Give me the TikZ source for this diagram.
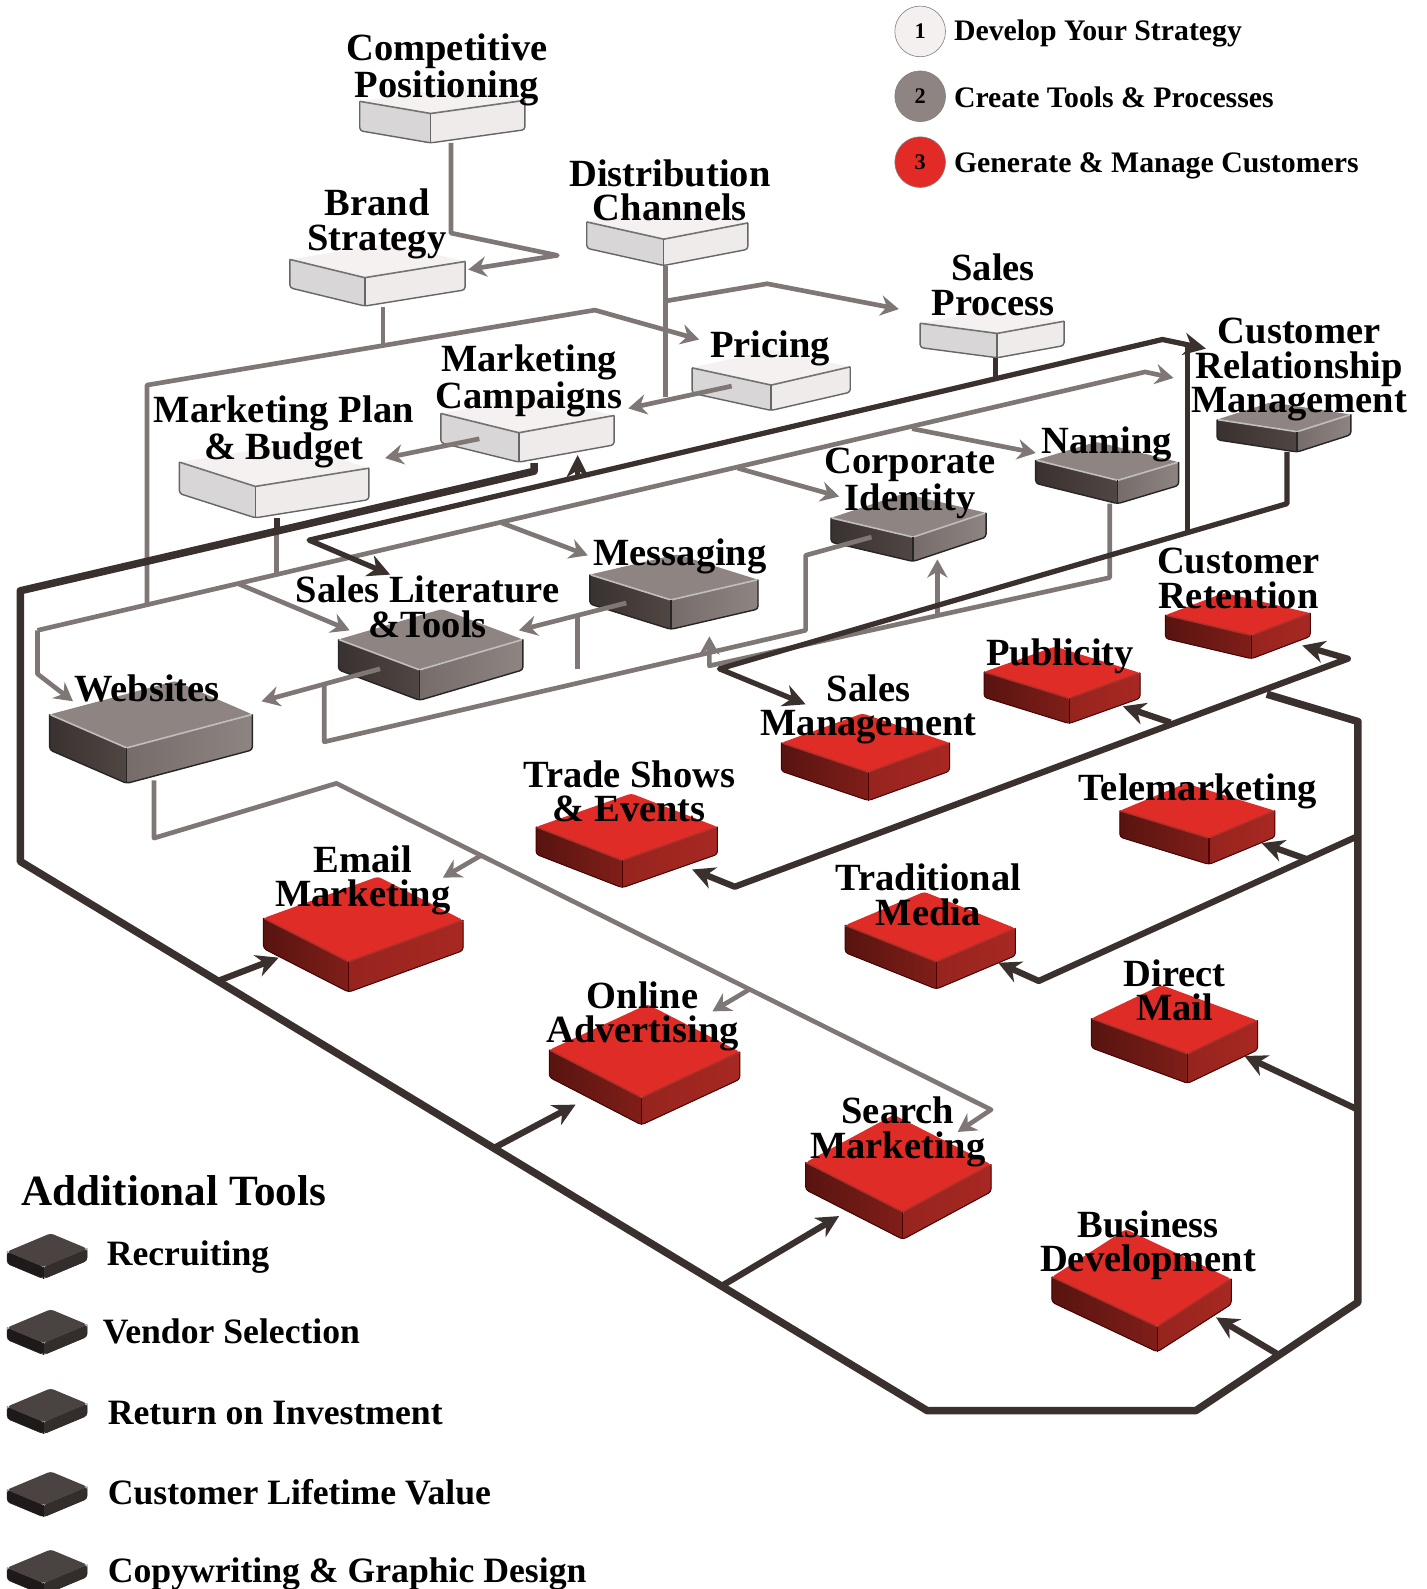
\documentclass[tikz,border=0pt]{standalone}
\usepackage{fontspec}
\setmainfont{Liberation Serif}
\usetikzlibrary{calc,arrows.meta}

\definecolor{linegrey}{HTML}{7F7775}
\definecolor{linedark}{HTML}{3A302E}

\tikzset{
    lighttop/.style={fill={rgb,255:red,245;green,241;blue,241}},
    lightleft/.style={fill={rgb,255:red,216;green,214;blue,214}},
    lightright/.style={fill={rgb,255:red,239;green,235;blue,235}},
    lightedge/.style={draw=black!55, line width=0.8pt},
    lightbase/.style={draw=black!60, line width=0.7pt},
    tooltop/.style={fill={rgb,255:red,142;green,132;blue,130}},
    toolleft/.style={left color={rgb,255:red,58;green,50;blue,48}, right color={rgb,255:red,80;green,70;blue,68}},
    toolright/.style={left color={rgb,255:red,118;green,108;blue,106}, right color={rgb,255:red,142;green,132;blue,130}},
    tooledge/.style={draw=black!25, line width=0.8pt},
    toolbase/.style={draw=black!85, line width=0.7pt},
    redtop/.style={fill={rgb,255:red,224;green,44;blue,39}},
    redleft/.style={left color={rgb,255:red,88;green,20;blue,16}, right color={rgb,255:red,128;green,30;blue,25}},
    redright/.style={left color={rgb,255:red,150;green,36;blue,30}, right color={rgb,255:red,168;green,40;blue,34}},
    rededge/.style={draw={rgb,255:red,170;green,50;blue,44}, line width=0.7pt},
    redbase/.style={draw=black!70!red, line width=0.5pt},
    smalltop/.style={fill={rgb,255:red,74;green,67;blue,65}},
    smallleft/.style={fill={rgb,255:red,30;green,26;blue,25}},
    smallright/.style={fill={rgb,255:red,51;green,45;blue,43}},
    smalledge/.style={draw={rgb,255:red,74;green,67;blue,65}, line width=0.2pt},
    smallbase/.style={draw={rgb,255:red,30;green,26;blue,25}, line width=0.2pt},
    blocklabel/.style={font=\fontsize{19}{17}\selectfont\bfseries, align=center, inner sep=0pt, yshift=-1.5pt},
    toollabel/.style={font=\fontsize{17.6}{19}\selectfont\bfseries, anchor=west, inner sep=0pt},
    stagelabel/.style={font=\fontsize{14.7}{16}\selectfont\bfseries, anchor=west, inner sep=0pt},
    stagedot/.style={circle, draw=black!50, line width=0.3pt, minimum size=25pt, inner sep=0pt, font=\fontsize{11}{12}\selectfont\bfseries},
    greyline/.style={draw=linegrey, line width=2.3pt, line join=round},
    greyarrow/.style={greyline, -{Stealth[length=9pt,width=10pt,inset=3pt]}},
    darkline/.style={draw=linedark, line width=3.1pt, line join=round},
    darkarrow/.style={darkline, -{Stealth[length=11pt,width=11pt,inset=3.5pt]}},
    darkboth/.style={darkline, {Stealth[length=11pt,width=11pt,inset=3.5pt]}-{Stealth[length=11pt,width=11pt,inset=3.5pt]}},
}

% name, kind, left corner, front corner, right corner, height
\newcommand{\block}[6]{
    \coordinate (#1 L) at (#3);
    \coordinate (#1 F) at (#4);
    \coordinate (#1 R) at (#5);
    \coordinate (#1 B) at ($(#1 L)+(#1 R)-(#1 F)$);
    \fill[#2top, rounded corners=1.5pt] (#1 L) -- (#1 B) -- (#1 R) -- (#1 F) -- cycle;
    \fill[#2left, rounded corners=1.5pt] (#1 L) -- (#1 F) -- ($(#1 F)+(0,#6)$) -- ($(#1 L)+(0,#6)$) -- cycle;
    \fill[#2right, rounded corners=1.5pt] (#1 F) -- (#1 R) -- ($(#1 R)+(0,#6)$) -- ($(#1 F)+(0,#6)$) -- cycle;
    \draw[#2edge] (#1 L) -- (#1 F) -- (#1 R);
    \draw[#2base, rounded corners=1.5pt] (#1 L) -- ($(#1 L)+(0,#6)$) -- ($(#1 F)+(0,#6)$) -- ($(#1 R)+(0,#6)$) -- (#1 R);
    \draw[#2base] (#1 F) -- ($(#1 F)+(0,#6)$);
}

\begin{document}
\begin{tikzpicture}[x=0.5pt, y=-0.5pt]
    \useasboundingbox (0,0) rectangle (1408,1568);

    % step 1
    \block{comp}{light}{355,100}{425,112}{518,99}{29}
    \block{brand}{light}{286,256}{360,274}{459,258}{28}
    \block{dist}{light}{579,219}{655,236}{738,220}{26}
    \block{process}{light}{908,319}{984,329}{1050,317}{24}
    \block{pricing}{light}{683,363}{761,380}{839,362}{25}
    \block{camp}{light}{435,408}{512,427}{606,410}{29}
    \block{plan}{light}{177,456}{252,480}{364,462}{31}

    % step 2
    \block{crm}{tool}{1201,414}{1280,426}{1333,409}{20}
    \block{naming}{tool}{1022,454}{1103,474}{1163,456}{23}
    \block{corp}{tool}{820,511}{901,530}{973,506}{24}
    \block{msg}{tool}{582,567}{662,592}{748,572}{29}
    \block{lit}{tool}{334,631}{414,661}{516,631}{30}
    \block{web}{tool}{49,705}{125,738}{249,705}{35}

    % step 3
    \block{retain}{red}{1150,607}{1235,627}{1293,605}{23}
    \block{public}{red}{971,663}{1055,689}{1125,664}{25}
    \block{salesm}{red}{771,733}{857,762}{937,733}{28}
    \block{tele}{red}{1105,800}{1193,827}{1258,800}{26}
    \block{trade}{red}{529,816}{614,849}{708,816}{27}
    \block{media}{red}{834,913}{924,949}{1002,916}{27}
    \block{direct}{red}{1077,1005}{1172,1040}{1241,1007}{29}
    \block{email}{red}{260,906}{344,949}{457,908}{30}
    \block{online}{red}{542,1036}{633,1083}{730,1038}{27}
    \block{search}{red}{795,1147}{891,1196}{978,1149}{27}
    \block{bizdev}{red}{1038,1260}{1142,1309}{1215,1262}{25}

    % additional tools
    \block{recruit}{small}{7,1235}{43,1250}{86,1232}{12}
    \block{vendor}{small}{7,1310}{43,1325}{86,1307}{12}
    \block{roi}{small}{7,1388}{43,1403}{86,1385}{12}
    \block{ltv}{small}{7,1470}{43,1485}{86,1467}{12}
    \block{copy}{small}{7,1547}{43,1562}{86,1544}{12}

    % grey connectors
    \coordinate (comp out) at (445,141);
    \coordinate (brand in) at (462,266);
    \coordinate (brand out) at (378,303);
    \coordinate (brand join) at (378,340);
    \coordinate (pricing in) at (690,335);
    \coordinate (left join) at (145,598);
    \coordinate (dist out) at (657,262);
    \coordinate (dist join) at (657,392);
    \coordinate (dist fork) at (657,297);
    \coordinate (process in) at (887,305);
    \coordinate (pricing out) at (722,381);
    \coordinate (camp in) at (620,403);
    \coordinate (camp out) at (473,433);
    \coordinate (plan in) at (380,452);
    \draw[greyarrow] (comp out) -- (445,230) -- (550,252) -- (brand in);
    \draw[greyline] (brand out) -- (brand join);
    \draw[greyarrow] (left join) -- (145,380) -- (587,306) -- (pricing in);
    \draw[greyline] (dist out) -- (dist join);
    \draw[greyarrow] (dist fork) -- (757,280) -- (process in);
    \draw[greyarrow] (pricing out) -- (camp in);
    \draw[greyarrow] (camp out) -- (plan in);

    \coordinate (bus start) at (37,622);
    \coordinate (web in) at (72,692);
    \coordinate (crm in) at (1158,373);
    \coordinate (fork lit) at (235,576);
    \coordinate (lit in) at (345,622);
    \coordinate (fork msg) at (495,516);
    \coordinate (msg in) at (580,548);
    \coordinate (fork corp) at (728,462);
    \coordinate (corp in) at (828,490);
    \coordinate (fork naming) at (900,423);
    \coordinate (naming in) at (1022,447);
    \coordinate (plan out) at (273,524);
    \coordinate (plan join) at (273,568);
    \draw[greyarrow] (bus start) -- (37,665) -- (web in);
    \draw[greyarrow] (bus start) -- (1130,367) -- (crm in);
    \draw[greyarrow] (fork lit) -- (lit in);
    \draw[greyarrow] (fork msg) -- (msg in);
    \draw[greyarrow] (fork corp) -- (corp in);
    \draw[greyarrow] (fork naming) -- (naming in);
    \draw[greyline] (plan out) -- (plan join);

    \coordinate (msg out) at (618,595);
    \coordinate (lit in2) at (512,622);
    \coordinate (lit out) at (375,660);
    \coordinate (web in2) at (258,692);
    \coordinate (lit fork) at (320,675);
    \coordinate (corp out) at (860,530);
    \coordinate (msg fork) at (570,609);
    \coordinate (msg join) at (570,660);
    \coordinate (naming out) at (1095,497);
    \coordinate (corner in) at (700,628);
    \coordinate (rise foot) at (925,609);
    \coordinate (corp in2) at (925,552);
    \draw[greyarrow] (msg out) -- (lit in2);
    \draw[greyarrow] (lit out) -- (web in2);
    \draw[greyline] (lit fork) -- (320,732) -- (795,622) -- (795,548) -- (corp out);
    \draw[greyline] (msg fork) -- (msg join);
    \draw[greyarrow] (naming out) -- (1095,570) -- (700,657) -- (corner in);
    \draw[greyarrow] (rise foot) -- (corp in2);

    \coordinate (web out) at (152,770);
    \coordinate (search in) at (945,1117);
    \coordinate (fork email) at (475,844);
    \coordinate (email in) at (437,866);
    \coordinate (fork online) at (740,976);
    \coordinate (online in) at (703,998);
    \draw[greyarrow] (web out) -- (152,827) -- (332,773) -- (978,1095) -- (search in);
    \draw[greyarrow] (fork email) -- (email in);
    \draw[greyarrow] (fork online) -- (online in);

    % dark connectors
    \coordinate (camp down) at (527,457);
    \coordinate (plan down) at (273,511);
    \coordinate (plan cross) at (273,526);
    \coordinate (top end) at (1190,344);
    \coordinate (lit dark) at (385,567);
    \coordinate (process out) at (982,353);
    \coordinate (process join) at (982,374);
    \coordinate (camp up foot) at (570,471);
    \coordinate (camp up) at (570,449);
    \coordinate (crm out) at (1270,446);
    \coordinate (salesm in) at (795,695);
    \coordinate (riser top) at (1172,340);
    \coordinate (riser foot) at (1172,525);
    \draw[darkline, line width=3.7pt] (camp down) -- (527,465) -- (20,583) -- (20,850) -- (915,1392) -- (1180,1392) -- (1340,1285) -- (1340,712) -- (1250,685);
    \draw[darkline] (plan down) -- (plan cross);
    \draw[darkboth, line width=2.6pt] (lit dark) -- (305,533) -- (1147,335) -- (top end);
    \draw[darkline, line width=2.4pt] (process out) -- (process join);
    \draw[darkarrow, line width=2.4pt] (camp up foot) -- (camp up);
    \draw[darkarrow, line width=2.6pt] (crm out) -- (1270,497) -- (710,660) -- (salesm in);
    \draw[darkline, line width=2.4pt] (riser top) -- (riser foot);

    \coordinate (trade in) at (683,858);
    \coordinate (retain in) at (1285,637);
    \coordinate (fork public) at (1155,713);
    \coordinate (public in) at (1108,697);
    \coordinate (right fork) at (1340,825);
    \coordinate (media in) at (985,950);
    \coordinate (fork tele) at (1290,848);
    \coordinate (tele in) at (1245,832);
    \coordinate (fork direct) at (1340,1095);
    \coordinate (direct in) at (1228,1042);
    \coordinate (fork bizdev) at (1262,1337);
    \coordinate (bizdev in) at (1200,1300);
    \coordinate (fork search) at (712,1269);
    \coordinate (search in2) at (828,1200);
    \coordinate (fork online2) at (487,1133);
    \coordinate (online in2) at (568,1090);
    \coordinate (fork email2) at (215,968);
    \coordinate (email in2) at (275,945);
    \draw[darkboth] (trade in) -- (725,875) -- (1330,650) -- (retain in);
    \draw[darkarrow] (fork public) -- (public in);
    \draw[darkarrow] (right fork) -- (1025,968) -- (media in);
    \draw[darkarrow] (fork tele) -- (tele in);
    \draw[darkarrow] (fork direct) -- (direct in);
    \draw[darkarrow] (fork bizdev) -- (bizdev in);
    \draw[darkarrow] (fork search) -- (search in2);
    \draw[darkarrow] (fork online2) -- (online in2);
    \draw[darkarrow] (fork email2) -- (email in2);

    % labels
    \node[blocklabel] (comp label) at (441,66) {Competitive\\Positioning};
    \node[blocklabel] (brand label) at (372,218) {Brand\\Strategy};
    \node[blocklabel] (dist label) at (661,185) {Distribution\\Channels};
    \node[blocklabel] (process label) at (980,278) {Sales\\Process};
    \node[blocklabel] (pricing label) at (760,341) {Pricing};
    \node[blocklabel] (camp label) at (522,373) {Marketing\\Campaigns};
    \node[blocklabel] (plan label) at (280,423) {Marketing Plan\\\& Budget};
    \node[blocklabel] (crm label) at (1282,362) {Customer\\Relationship\\Management};
    \node[blocklabel] (naming label) at (1092,436) {Naming};
    \node[blocklabel] (corp label) at (898,474) {Corporate\\Identity};
    \node[blocklabel] (msg label) at (671,546) {Messaging};
    \node[blocklabel] (lit label) at (422,596) {Sales Literature\\\&Tools};
    \node[blocklabel] (web label) at (145,676) {Websites};
    \node[blocklabel] (retain label) at (1222,568) {Customer\\Retention};
    \node[blocklabel] (public label) at (1046,645) {Publicity};
    \node[blocklabel] (salesm label) at (857,697) {Sales\\Management};
    \node[blocklabel] (tele label) at (1182,778) {Telemarketing};
    \node[blocklabel] (trade label) at (621,778) {Trade Shows\\\& Events};
    \node[blocklabel] (media label) at (916,880) {Traditional\\Media};
    \node[blocklabel] (direct label) at (1159,974) {Direct\\Mail};
    \node[blocklabel] (email label) at (358,866) {Email\\Marketing};
    \node[blocklabel] (online label) at (634,1000) {Online\\Advertising};
    \node[blocklabel] (search label) at (886,1114) {Search\\Marketing};
    \node[blocklabel] (bizdev label) at (1133,1226) {Business\\Development};

    % key, top right
    \node[stagedot, fill={rgb,255:red,245;green,240;blue,240}] (stage one) at (908,31) {1};
    \node[stagedot, fill={rgb,255:red,142;green,132;blue,130}] (stage two) at (908,95) {2};
    \node[stagedot, fill={rgb,255:red,226;green,43;blue,39}] (stage three) at (908,160) {3};
    \node[stagelabel] (stage one label) at (941,33) {Develop Your Strategy};
    \node[stagelabel] (stage two label) at (941,96) {Create Tools \& Processes};
    \node[stagelabel] (stage three label) at (941,164) {Generate \& Manage Customers};

    % key, bottom left
    \node[toollabel, font=\fontsize{21.3}{23}\selectfont\bfseries] (tools title) at (21,1175) {Additional Tools};
    \node[toollabel] (recruit label) at (105,1240) {Recruiting};
    \node[toollabel] (vendor label) at (101,1314) {Vendor Selection};
    \node[toollabel] (roi label) at (106,1394) {Return on Investment};
    \node[toollabel] (ltv label) at (106,1472) {Customer Lifetime Value};
    \node[toollabel] (copy label) at (106,1553) {Copywriting \& Graphic Design};
\end{tikzpicture}
\end{document}
